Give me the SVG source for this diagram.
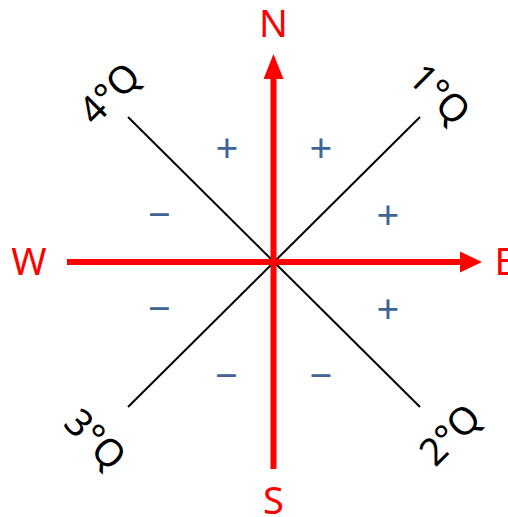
<svg xmlns="http://www.w3.org/2000/svg" width="508" height="517" viewBox="0 0 508 517">
<style>
.axis{stroke:#FF0000;stroke-width:6;fill:none}
.diag{stroke:#000000;stroke-width:2;fill:none}
.head{fill:#FF0000}
.dir{font-family:"Noto Sans","Open Sans","DejaVu Sans",sans-serif;font-size:38px;fill:#FF0000}
.quad{font-family:"Noto Sans","Open Sans","DejaVu Sans",sans-serif;font-size:38px;fill:#000000;text-anchor:middle}
.sign{font-family:"Noto Sans","Open Sans","DejaVu Sans",sans-serif;font-size:40px;fill:#3E6497;text-anchor:middle}
</style>
<rect width="508" height="517" fill="#FFFFFF"/>
<g id="connectors">
<line class="diag" x1="128" y1="117" x2="420" y2="407"/>
<line class="diag" x1="420" y1="117" x2="128" y2="407"/>
<line class="axis" x1="273.5" y1="76" x2="273.5" y2="469"/>
<line class="axis" x1="67" y1="262" x2="463" y2="262"/>
<polygon class="head" points="273.5,54 263.5,79 283.5,79"/>
<polygon class="head" points="482,262 460,251.5 460,272.5"/>
</g>
<g id="north"><text class="dir" x="273.5" y="37" text-anchor="middle">N</text></g>
<g id="south"><text class="dir" x="273.5" y="514" text-anchor="middle">S</text></g>
<g id="west"><text class="dir" x="29" y="275" text-anchor="middle">W</text></g>
<g id="east"><text class="dir" x="494.5" y="275">E</text></g>
<g id="q1"><text class="quad" transform="translate(430.3,103.7) rotate(45)">1°Q</text></g>
<g id="q2"><text class="quad" transform="translate(459.2,444) rotate(-45)">2°Q</text></g>
<g id="q3"><text class="quad" transform="translate(86,448.8) rotate(45)">3°Q</text></g>
<g id="q4"><text class="quad" transform="translate(118.8,102.7) rotate(-45)">4°Q</text></g>
<g id="signs">
<text class="sign" x="227" y="162">+</text>
<text class="sign" x="321" y="162">+</text>
<text class="sign" x="388" y="229">+</text>
<text class="sign" x="388" y="323">+</text>
<text class="sign" x="159.5" y="229">−</text>
<text class="sign" x="159.5" y="323">−</text>
<text class="sign" x="226.5" y="390">−</text>
<text class="sign" x="321" y="390">−</text>
</g>
</svg>
